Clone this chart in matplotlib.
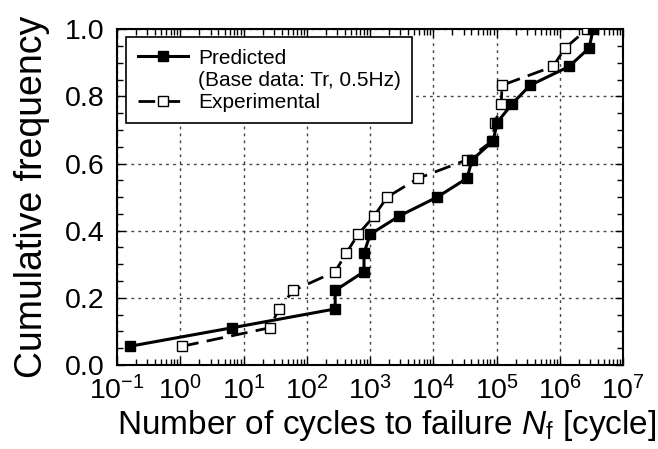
import matplotlib
matplotlib.use("Agg")
import matplotlib.pyplot as plt
from matplotlib.lines import Line2D
from matplotlib.ticker import LogLocator, MultipleLocator, NullFormatter

plt.rcParams["font.family"] = ["Liberation Sans", "DejaVu Sans"]
plt.rcParams["mathtext.fontset"] = "custom"
plt.rcParams["mathtext.rm"] = "Liberation Sans"
plt.rcParams["mathtext.it"] = "Liberation Sans:italic"
plt.rcParams["mathtext.default"] = "regular"

# ── data ──────────────────────────────────────────────────────────────────
pred_cycles = [0.16, 6.6, 280, 280, 800, 800, 1000, 2900, 11500, 34000,
               41000, 88000, 102000, 176000, 339000, 1400000, 2900000, 3360000]
pred_freq = [0.056, 0.111, 0.167, 0.222, 0.278, 0.333, 0.389, 0.444, 0.500,
             0.556, 0.611, 0.667, 0.722, 0.778, 0.833, 0.889, 0.944, 1.000]

exp_cycles = [1.07, 26, 36, 61, 280, 418, 646, 1160, 1860, 5740,
              34000, 85000, 95000, 118000, 122000, 782000, 1210000, 2700000]
exp_freq = [0.056, 0.111, 0.167, 0.222, 0.278, 0.333, 0.389, 0.444, 0.500,
            0.556, 0.611, 0.667, 0.722, 0.778, 0.833, 0.889, 0.944, 1.000]

# ── plot ──────────────────────────────────────────────────────────────────
fig = plt.figure(figsize=(6.58, 4.49), dpi=100)
ax = fig.add_axes([0.178, 0.187, 0.769, 0.748])

ax.plot(exp_cycles, exp_freq, color="black", lw=2, ls=(0, (6, 3)),
        marker="s", ms=7, mfc="white", mec="black", mew=1, zorder=3)
ax.plot(pred_cycles, pred_freq, color="black", lw=2.2, ls="-",
        marker="s", ms=7, mfc="black", mec="black", zorder=4)

ax.set_xscale("log")
ax.set_xlim(1e-1, 1e7)
ax.set_ylim(0.0, 1.0)
ax.xaxis.set_major_locator(LogLocator(base=10, numticks=20))
ax.xaxis.set_minor_locator(LogLocator(base=10, subs=range(2, 10), numticks=20))
ax.xaxis.set_minor_formatter(NullFormatter())
ax.yaxis.set_major_locator(MultipleLocator(0.2))
ax.yaxis.set_minor_locator(MultipleLocator(0.05))
ax.yaxis.set_major_formatter(lambda v, p: f"{v:.1f}")

ax.tick_params(which="both", direction="in", top=True, right=True,
               labelsize=20.5, width=1)
ax.tick_params(axis="x", pad=8)
ax.tick_params(axis="y", pad=9)
ax.tick_params(which="major", length=6)
ax.tick_params(which="minor", length=4)
for s in ax.spines.values():
    s.set_linewidth(1.5)

ax.grid(True, which="major", ls=(0, (2, 3)), color="#444444", lw=1)
ax.set_axisbelow(True)

ax.set_xlabel(r"Number of cycles to failure $\mathit{N}_\mathrm{f}$ [cycle]",
              fontsize=24)
ax.xaxis.set_label_coords(0.532, -0.128)
ax.set_ylabel("Cumulative frequency", fontsize=27, labelpad=11)

handles = [
    Line2D([], [], color="black", lw=2.2, marker="s", ms=7, mfc="black"),
    Line2D([], [], color="none"),
    Line2D([], [], color="black", lw=2, ls=(0, (6, 3)), marker="s", ms=7,
           mfc="white", mew=1),
]
labels = ["Predicted", "(Base data: Tr, 0.5Hz)", "Experimental"]
leg = ax.legend(handles, labels, loc="upper left", bbox_to_anchor=(0.018, 0.976),
                borderaxespad=0, fontsize=15, handlelength=2.4,
                handletextpad=0.5, labelspacing=0.15, borderpad=0.55,
                fancybox=False, edgecolor="black", framealpha=1)
leg.get_frame().set_linewidth(1.2)

fig.savefig("out.png", dpi=100)
